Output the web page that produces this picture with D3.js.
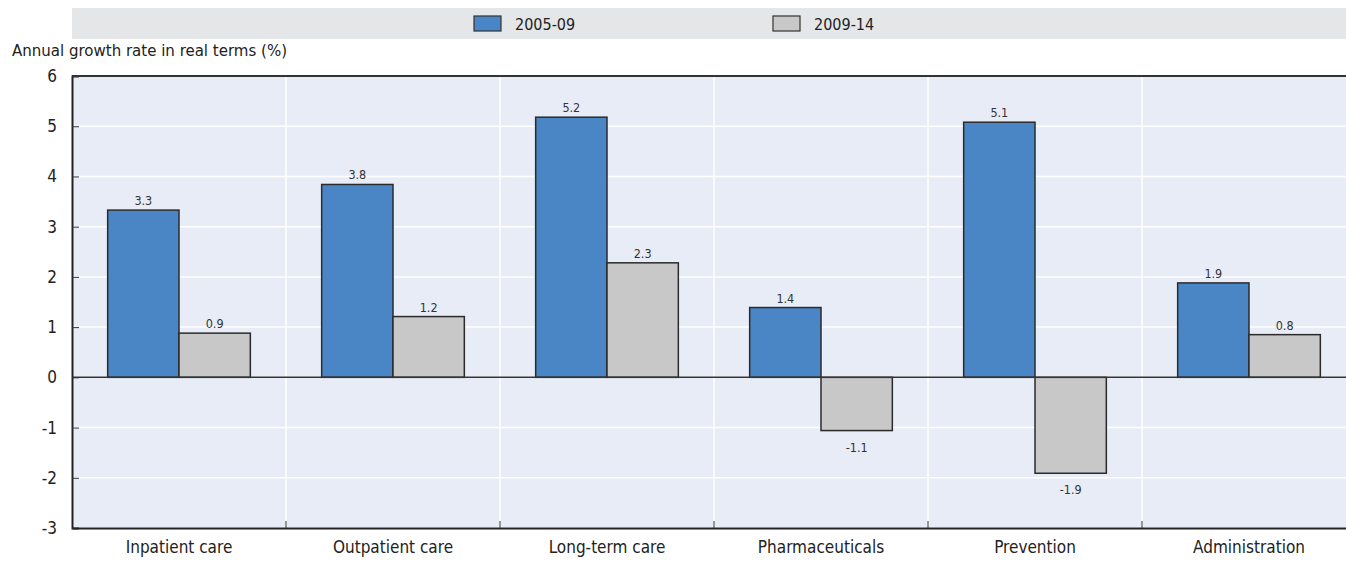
<!DOCTYPE html>
<html>
<head>
<meta charset="utf-8">
<script src="https://cdn.jsdelivr.net/npm/d3@7"></script>
<style>
  body { margin: 0; background: #fff; }
  svg { display: block; font-family: "Liberation Sans Narrow", "DejaVu Sans Condensed", "Liberation Sans", Arial, sans-serif; }
</style>
</head>
<body>
<svg id="chart"></svg>
<script>
// bar chart: health spending growth by function
var categories = ["Inpatient care", "Outpatient care", "Long-term care", "Pharmaceuticals", "Prevention", "Administration"]
var seriesNames = ["2005-09", "2009-14"]
var values0509 = [3.33, 3.84, 5.18, 1.39, 5.08, 1.88]
var values0914 = [0.88, 1.21, 2.28, -1.06, -1.91, 0.85]
var yTicks = [-3, -2, -1, 0, 1, 2, 3, 4, 5, 6]
var colors = ["#4a86c5", "#c8c8c9"]

var dimensions = {
    width: 1346,
    height: 562,
    margin: { top: 76, bottom: 32, left: 72, right: -10 }
}

var svg = d3.select("#chart")
    .attr("width", dimensions.width)
    .attr("height", dimensions.height)

var x0 = dimensions.margin.left
var x1 = dimensions.width - dimensions.margin.right
var yTop = dimensions.margin.top
var yBot = dimensions.height - dimensions.margin.bottom - 2

var xScale = d3.scaleBand()
    .domain(categories)
    .range([x0, x1])

var xInner = d3.scaleBand()
    .domain(seriesNames)
    .range([0, xScale.bandwidth()])
    .paddingOuter(0.5)

var yScale = d3.scaleLinear()
    .domain([-3, 6])
    .range([yBot, yTop])

// legend strip
svg.append("rect")
    .attr("x", 72).attr("y", 8)
    .attr("width", dimensions.width - 72).attr("height", 31)
    .attr("fill", "#e5e6e8")

var legendX = [474, 773]
seriesNames.forEach(function (s, i) {
    svg.append("rect")
        .attr("x", legendX[i]).attr("y", 16)
        .attr("width", 27).attr("height", 15)
        .attr("fill", colors[i])
        .attr("stroke", "#333").attr("stroke-width", 1.2)
    svg.append("text")
        .attr("x", legendX[i] + 41).attr("y", 30)
        .attr("font-size", 16).attr("fill", "#222")
        .text(s)
})

// axis title
svg.append("text")
    .attr("x", 12).attr("y", 56)
    .attr("font-size", 16.7).attr("fill", "#222")
    .text("Annual growth rate in real terms (%)")

// plot background
svg.append("rect")
    .attr("x", x0).attr("y", yTop)
    .attr("width", x1 - x0).attr("height", yBot - yTop)
    .attr("fill", "#e8ecf6")

// horizontal gridlines
svg.append("g")
    .selectAll("line")
    .data(yTicks)
    .enter()
    .append("line")
    .attr("x1", x0).attr("x2", x1)
    .attr("y1", d => yScale(d)).attr("y2", d => yScale(d))
    .attr("stroke", "#fff").attr("stroke-width", 1.5)

// vertical gridlines at category boundaries
svg.append("g")
    .selectAll("line")
    .data(categories.slice(1))
    .enter()
    .append("line")
    .attr("x1", d => xScale(d)).attr("x2", d => xScale(d))
    .attr("y1", yTop).attr("y2", yBot)
    .attr("stroke", "#fff").attr("stroke-width", 1.5)

var rows = []
categories.forEach(function (c, i) {
    rows.push({ cat: c, series: seriesNames[0], value: values0509[i], color: colors[0] })
    rows.push({ cat: c, series: seriesNames[1], value: values0914[i], color: colors[1] })
})

svg.append("g")
    .selectAll("rect")
    .data(rows)
    .enter()
    .append("rect")
    .attr("x", d => xScale(d.cat) + xInner(d.series))
    .attr("width", xInner.bandwidth())
    .attr("y", d => yScale(Math.max(0, d.value)))
    .attr("height", d => Math.abs(yScale(d.value) - yScale(0)))
    .attr("fill", d => d.color)
    .attr("stroke", "#2b2b2b").attr("stroke-width", 1.5)

svg.append("g")
    .selectAll("text")
    .data(rows)
    .enter()
    .append("text")
    .attr("x", d => xScale(d.cat) + xInner(d.series) + xInner.bandwidth() / 2)
    .attr("y", d => d.value >= 0 ? yScale(d.value) - 5 : yScale(d.value) + 21)
    .attr("text-anchor", "middle")
    .attr("font-size", 12.5).attr("fill", "#333")
    .text(d => d.value.toFixed(1))

// zero line
svg.append("line")
    .attr("x1", x0).attr("x2", x1)
    .attr("y1", yScale(0)).attr("y2", yScale(0))
    .attr("stroke", "#333").attr("stroke-width", 1.5)

// y axis
var yAxis = svg.append("g")
    .attr("transform", `translate(${x0},0)`)
    .call(d3.axisLeft(yScale).tickValues(yTicks).tickSize(-7).tickPadding(15).tickFormat(d => String(d)))
    .attr("font-family", null).attr("font-size", null)
yAxis.select(".domain").attr("stroke", "#222").attr("stroke-width", 2)
yAxis.selectAll(".tick line").attr("stroke", "#333")
yAxis.selectAll("text").attr("font-size", 17).attr("fill", "#222")

// top border
svg.append("line")
    .attr("x1", x0).attr("x2", x1)
    .attr("y1", yTop).attr("y2", yTop)
    .attr("stroke", "#333").attr("stroke-width", 2)

// x axis
var xAxis = svg.append("g")
    .attr("transform", `translate(0,${yBot})`)
    .call(d3.axisBottom(xScale).tickSize(0).tickPadding(13))
    .attr("font-family", null).attr("font-size", null)
xAxis.select(".domain").attr("stroke", "#222").attr("stroke-width", 2)
xAxis.selectAll("text").attr("font-size", 17).attr("fill", "#222")

// small upward ticks at category boundaries
svg.append("g")
    .selectAll("line")
    .data(categories.slice(1))
    .enter()
    .append("line")
    .attr("x1", d => xScale(d)).attr("x2", d => xScale(d))
    .attr("y1", yBot - 7).attr("y2", yBot)
    .attr("stroke", "#333")
</script>
</body>
</html>
